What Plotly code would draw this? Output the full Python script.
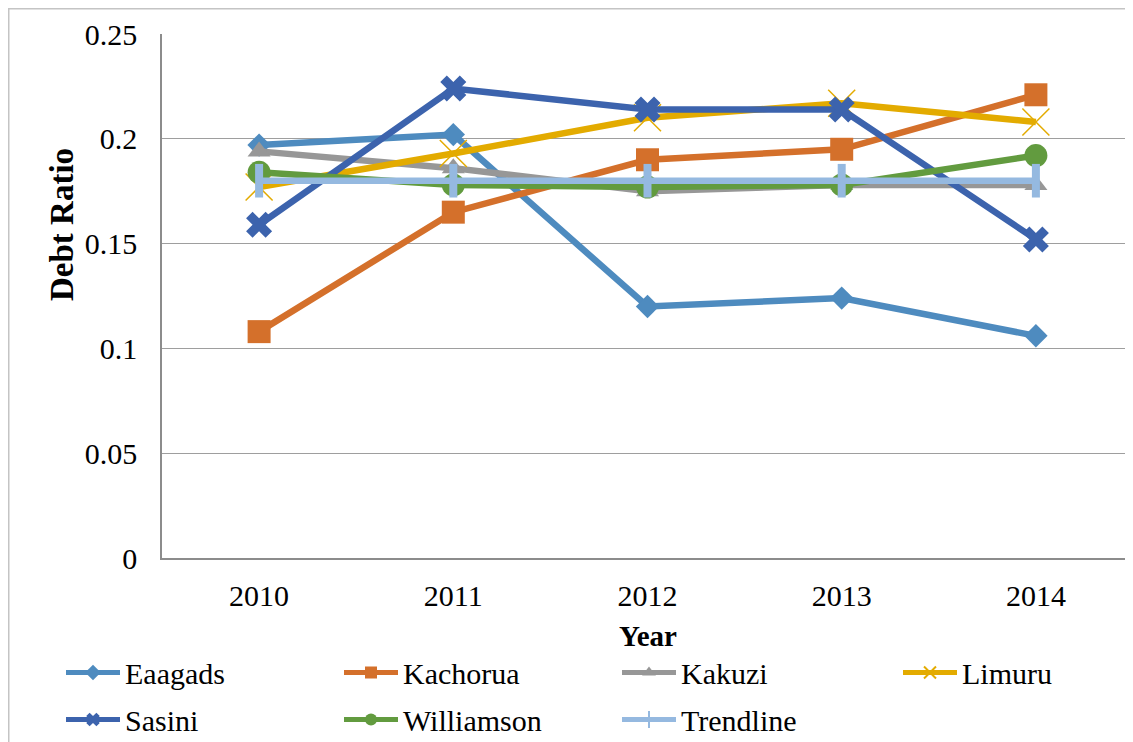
import plotly.graph_objects as go

years = ["2010", "2011", "2012", "2013", "2014"]
eaagads = [0.197, 0.202, 0.120, 0.124, 0.106]
kachorua = [0.108, 0.165, 0.190, 0.195, 0.221]
kakuzi = [0.194, 0.186, 0.175, 0.178, 0.178]
limuru = [0.177, 0.193, 0.210, 0.217, 0.208]
sasini = [0.159, 0.224, 0.214, 0.214, 0.152]
williamson = [0.184, 0.178, 0.177, 0.178, 0.192]
trendline = [0.180, 0.180, 0.180, 0.180, 0.180]

FONT = "Liberation Serif"

series = [
    ("Eaagads", eaagads, "#4e8bbf", dict(symbol="diamond", size=18), "legend"),
    ("Kachorua", kachorua, "#d4702b", dict(symbol="square", size=23), "legend"),
    ("Kakuzi", kakuzi, "#979797", dict(symbol="triangle-up", size=20), "legend"),
    ("Limuru", limuru, "#e3ab00", dict(symbol="x-thin-open", size=27, line=dict(width=1.5, color="#e3ab00")), "legend3"),
    ("Sasini", sasini, "#3c63ad", dict(symbol="x", size=23), "legend2"),
    ("Williamson", williamson, "#629b3f", dict(symbol="circle", size=23), "legend2"),
    ("Trendline", trendline, "#95b9e0", dict(symbol="line-ns-open", size=24, line=dict(width=8, color="#95b9e0")), "legend2"),
]

fig = go.Figure()
for name, vals, color, mk, lg in series:
    m = dict(color=color)
    m.update(mk)
    fig.add_trace(go.Scatter(
        x=years, y=vals, name=name, mode="lines+markers",
        line=dict(color=color, width=6.5), marker=m, legend=lg,
    ))

# page body has an 8px offset; figure coordinates = screen - 8
W, H = 1133, 742
L, R, T, B = 154, 8, 26, 192
pw, ph = W - L - R, H - T - B


def px(xf):
    return (xf - L) / pw


def py(yf):
    return (H - B - yf) / ph


def cx(xf):
    return xf / W


def cy(yf):
    return 1 - yf / H


fig.add_shape(type="rect", xref="paper", yref="paper",
              x0=px(0.75), x1=px(1300), y0=py(900), y1=py(0.75),
              line=dict(color="#c4c4c4", width=1.5), layer="below")

fig.add_annotation(text="<b>Debt Ratio</b>", xref="paper", yref="paper",
                   x=px(54), y=py(217), textangle=-90, showarrow=False,
                   font=dict(family=FONT, size=33, color="black"),
                   xanchor="center", yanchor="middle")
fig.add_annotation(text="<b>Year</b>", xref="paper", yref="paper",
                   x=px(640), y=py(628), showarrow=False,
                   font=dict(family=FONT, size=29, color="black"),
                   xanchor="center", yanchor="middle")

leg_common = dict(orientation="h", xref="container", yref="container",
                  xanchor="left", yanchor="top",
                  font=dict(family=FONT, size=30, color="black"),
                  itemwidth=54, entrywidthmode="pixels",
                  itemsizing="constant", traceorder="normal",
                  bgcolor="rgba(0,0,0,0)")

COLW = 279
LX = 53

fig.update_layout(
    width=W, height=H,
    margin=dict(l=L, r=R, t=T, b=B, autoexpand=False),
    paper_bgcolor="white", plot_bgcolor="white",
    font=dict(family=FONT, size=30, color="black"),
    xaxis=dict(type="category", range=[-0.5, 4.5], showgrid=False,
               showline=True, linecolor="#8c8c8c", linewidth=1.5,
               ticks="", tickfont=dict(family=FONT, size=30, color="black"),
               ticklabelstandoff=10, automargin=False),
    yaxis=dict(range=[0, 0.25], dtick=0.05, showgrid=True, gridcolor="#9e9e9e",
               gridwidth=1, showline=True, linecolor="#8c8c8c", linewidth=1.5,
               zeroline=False, ticks="",
               tickfont=dict(family=FONT, size=30, color="black"),
               ticklabelstandoff=17, automargin=False),
    legend=dict(x=cx(LX), y=cy(638.5), entrywidth=COLW - 70, **leg_common),
    legend3=dict(x=cx(LX + 3 * COLW), y=cy(638.5), entrywidth=110, **leg_common),
    legend2=dict(x=cx(LX), y=cy(685.5), entrywidth=COLW - 70, **leg_common),
    showlegend=True,
)

fig.write_html("out.html")
